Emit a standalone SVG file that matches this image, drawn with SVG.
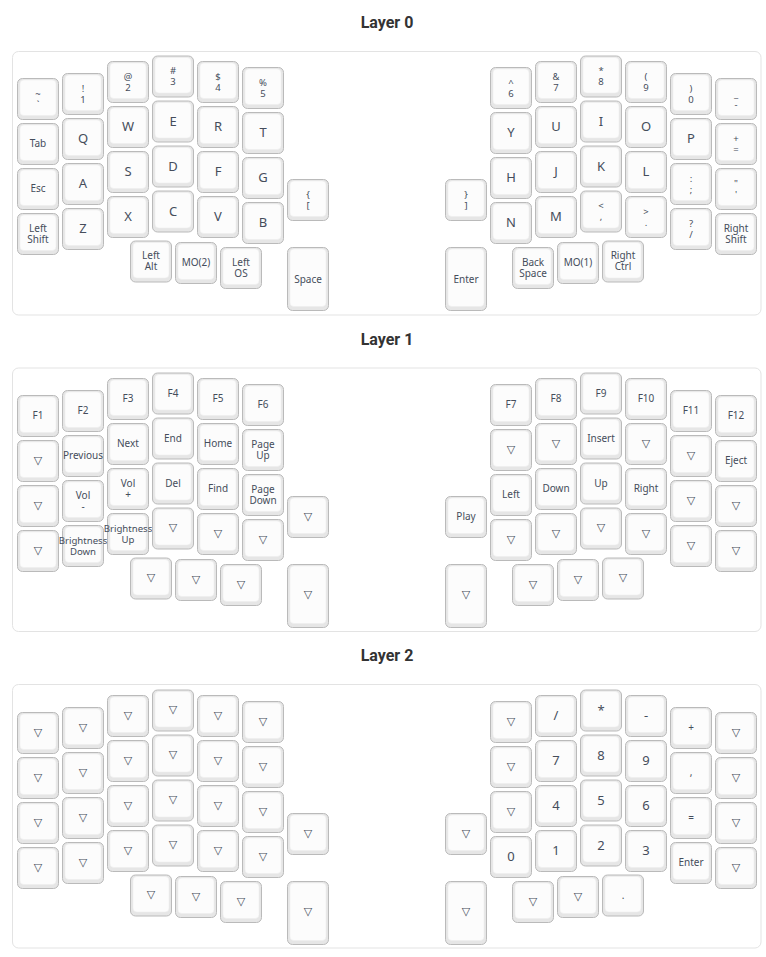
<svg xmlns="http://www.w3.org/2000/svg" xmlns:xlink="http://www.w3.org/1999/xlink" width="766" height="957" viewBox="0 0 766 957">
<style>
.bg{fill:#ffffff}
.layer{fill:#ffffff;stroke:#e3e3e3;stroke-width:1}
.ko{fill:#e6e6e6;stroke:#bababa;stroke-width:1}
.ki{fill:#fcfcfc;stroke:#ececec;stroke-width:0.5}
text{font-family:"Noto Sans","Open Sans",sans-serif;fill:#454d5b;text-anchor:middle;dominant-baseline:central}
.title{font-family:Roboto,"Noto Sans",sans-serif;font-weight:bold;font-size:16px;fill:#333333;dominant-baseline:alphabetic}
.t{font-size:13px}
.s{font-size:10px}
.m{font-size:9.5px}
.b{font-size:9.6px}
.tr{font-family:"DejaVu Sans",sans-serif;font-size:11px}
</style>
<defs>
<g id="k"><rect class="ko" x="0" y="0" width="41" height="41" rx="5"/><rect class="ki" x="2.5" y="1.5" width="36" height="35.5" rx="4"/></g>
<g id="kt"><rect class="ko" x="0" y="0" width="41" height="63" rx="5"/><rect class="ki" x="2.5" y="1.5" width="36" height="57.5" rx="4"/></g>
</defs>
<rect class="bg" x="0" y="0" width="766" height="957"/>
<g id="connectors"/>

<!-- ===== LAYER 0 ===== -->
<g id="layer0">
<text class="title" x="387" y="28">Layer 0</text>
<rect class="layer" x="12.5" y="51.5" width="748.5" height="263.5" rx="6"/>
<g id="l0-c0r0" transform="translate(17.5,78.5)"><use href="#k"/><text class="m"><tspan x="20.5" y="14">~</tspan><tspan x="20.5" y="25">`</tspan></text></g>
<g id="l0-c0r1" transform="translate(17.5,123.5)"><use href="#k"/><text class="s" x="20.5" y="19.5">Tab</text></g>
<g id="l0-c0r2" transform="translate(17.5,168.5)"><use href="#k"/><text class="s" x="20.5" y="19.5">Esc</text></g>
<g id="l0-c0r3" transform="translate(17.5,213.5)"><use href="#k"/><text class="s"><tspan x="20.5" y="14">Left</tspan><tspan x="20.5" y="25">Shift</tspan></text></g>
<g id="l0-c1r0" transform="translate(62.5,73.5)"><use href="#k"/><text class="m"><tspan x="20.5" y="14">!</tspan><tspan x="20.5" y="25">1</tspan></text></g>
<g id="l0-c1r1" transform="translate(62.5,118.5)"><use href="#k"/><text class="t" x="20.5" y="19.5">Q</text></g>
<g id="l0-c1r2" transform="translate(62.5,163.5)"><use href="#k"/><text class="t" x="20.5" y="19.5">A</text></g>
<g id="l0-c1r3" transform="translate(62.5,208.5)"><use href="#k"/><text class="t" x="20.5" y="19.5">Z</text></g>
<g id="l0-c2r0" transform="translate(107.5,61.5)"><use href="#k"/><text class="m"><tspan x="20.5" y="14">@</tspan><tspan x="20.5" y="25">2</tspan></text></g>
<g id="l0-c2r1" transform="translate(107.5,106.5)"><use href="#k"/><text class="t" x="20.5" y="19.5">W</text></g>
<g id="l0-c2r2" transform="translate(107.5,151.5)"><use href="#k"/><text class="t" x="20.5" y="19.5">S</text></g>
<g id="l0-c2r3" transform="translate(107.5,196.5)"><use href="#k"/><text class="t" x="20.5" y="19.5">X</text></g>
<g id="l0-c3r0" transform="translate(152.5,56)"><use href="#k"/><text class="m"><tspan x="20.5" y="14">#</tspan><tspan x="20.5" y="25">3</tspan></text></g>
<g id="l0-c3r1" transform="translate(152.5,101)"><use href="#k"/><text class="t" x="20.5" y="19.5">E</text></g>
<g id="l0-c3r2" transform="translate(152.5,146)"><use href="#k"/><text class="t" x="20.5" y="19.5">D</text></g>
<g id="l0-c3r3" transform="translate(152.5,191)"><use href="#k"/><text class="t" x="20.5" y="19.5">C</text></g>
<g id="l0-c4r0" transform="translate(197.5,61.5)"><use href="#k"/><text class="m"><tspan x="20.5" y="14">$</tspan><tspan x="20.5" y="25">4</tspan></text></g>
<g id="l0-c4r1" transform="translate(197.5,106.5)"><use href="#k"/><text class="t" x="20.5" y="19.5">R</text></g>
<g id="l0-c4r2" transform="translate(197.5,151.5)"><use href="#k"/><text class="t" x="20.5" y="19.5">F</text></g>
<g id="l0-c4r3" transform="translate(197.5,196.5)"><use href="#k"/><text class="t" x="20.5" y="19.5">V</text></g>
<g id="l0-c5r0" transform="translate(242.5,67.5)"><use href="#k"/><text class="m"><tspan x="20.5" y="14">%</tspan><tspan x="20.5" y="25">5</tspan></text></g>
<g id="l0-c5r1" transform="translate(242.5,112.5)"><use href="#k"/><text class="t" x="20.5" y="19.5">T</text></g>
<g id="l0-c5r2" transform="translate(242.5,157.5)"><use href="#k"/><text class="t" x="20.5" y="19.5">G</text></g>
<g id="l0-c5r3" transform="translate(242.5,202.5)"><use href="#k"/><text class="t" x="20.5" y="19.5">B</text></g>
<g id="l0-c6r0" transform="translate(287.5,179.5)"><use href="#k"/><text class="m"><tspan x="20.5" y="14">{</tspan><tspan x="20.5" y="25">[</tspan></text></g>
<g id="l0-c6r1" transform="translate(287.5,247.5)"><use href="#kt"/><text class="s" x="20.5" y="31">Space</text></g>
<g id="l0-t0" transform="translate(130.5,241)"><use href="#k"/><text class="s"><tspan x="20.5" y="14">Left</tspan><tspan x="20.5" y="25">Alt</tspan></text></g>
<g id="l0-t1" transform="translate(175.5,242.5)"><use href="#k"/><text class="s" x="20.5" y="19.5">MO(2)</text></g>
<g id="l0-t2" transform="translate(220.5,247.5)"><use href="#k"/><text class="s"><tspan x="20.5" y="14">Left</tspan><tspan x="20.5" y="25">OS</tspan></text></g>
<g id="l0-r0r0" transform="translate(445.5,179.5)"><use href="#k"/><text class="m"><tspan x="20.5" y="14">}</tspan><tspan x="20.5" y="25">]</tspan></text></g>
<g id="l0-r0r1" transform="translate(445.5,247.5)"><use href="#kt"/><text class="s" x="20.5" y="31">Enter</text></g>
<g id="l0-r1r0" transform="translate(490.5,67.5)"><use href="#k"/><text class="m"><tspan x="20.5" y="14">^</tspan><tspan x="20.5" y="25">6</tspan></text></g>
<g id="l0-r1r1" transform="translate(490.5,112.5)"><use href="#k"/><text class="t" x="20.5" y="19.5">Y</text></g>
<g id="l0-r1r2" transform="translate(490.5,157.5)"><use href="#k"/><text class="t" x="20.5" y="19.5">H</text></g>
<g id="l0-r1r3" transform="translate(490.5,202.5)"><use href="#k"/><text class="t" x="20.5" y="19.5">N</text></g>
<g id="l0-r2r0" transform="translate(535.5,61.5)"><use href="#k"/><text class="m"><tspan x="20.5" y="14">&amp;</tspan><tspan x="20.5" y="25">7</tspan></text></g>
<g id="l0-r2r1" transform="translate(535.5,106.5)"><use href="#k"/><text class="t" x="20.5" y="19.5">U</text></g>
<g id="l0-r2r2" transform="translate(535.5,151.5)"><use href="#k"/><text class="t" x="20.5" y="19.5">J</text></g>
<g id="l0-r2r3" transform="translate(535.5,196.5)"><use href="#k"/><text class="t" x="20.5" y="19.5">M</text></g>
<g id="l0-r3r0" transform="translate(580.5,56)"><use href="#k"/><text class="m"><tspan x="20.5" y="14">*</tspan><tspan x="20.5" y="25">8</tspan></text></g>
<g id="l0-r3r1" transform="translate(580.5,101)"><use href="#k"/><text class="t" x="20.5" y="19.5">I</text></g>
<g id="l0-r3r2" transform="translate(580.5,146)"><use href="#k"/><text class="t" x="20.5" y="19.5">K</text></g>
<g id="l0-r3r3" transform="translate(580.5,191)"><use href="#k"/><text class="m"><tspan x="20.5" y="14">&lt;</tspan><tspan x="20.5" y="25">,</tspan></text></g>
<g id="l0-r4r0" transform="translate(625.5,61.5)"><use href="#k"/><text class="m"><tspan x="20.5" y="14">(</tspan><tspan x="20.5" y="25">9</tspan></text></g>
<g id="l0-r4r1" transform="translate(625.5,106.5)"><use href="#k"/><text class="t" x="20.5" y="19.5">O</text></g>
<g id="l0-r4r2" transform="translate(625.5,151.5)"><use href="#k"/><text class="t" x="20.5" y="19.5">L</text></g>
<g id="l0-r4r3" transform="translate(625.5,196.5)"><use href="#k"/><text class="m"><tspan x="20.5" y="14">&gt;</tspan><tspan x="20.5" y="25">.</tspan></text></g>
<g id="l0-r5r0" transform="translate(670.5,73.5)"><use href="#k"/><text class="m"><tspan x="20.5" y="14">)</tspan><tspan x="20.5" y="25">0</tspan></text></g>
<g id="l0-r5r1" transform="translate(670.5,118.5)"><use href="#k"/><text class="t" x="20.5" y="19.5">P</text></g>
<g id="l0-r5r2" transform="translate(670.5,163.5)"><use href="#k"/><text class="m"><tspan x="20.5" y="14">:</tspan><tspan x="20.5" y="25">;</tspan></text></g>
<g id="l0-r5r3" transform="translate(670.5,208.5)"><use href="#k"/><text class="m"><tspan x="20.5" y="14">?</tspan><tspan x="20.5" y="25">/</tspan></text></g>
<g id="l0-r6r0" transform="translate(715.5,78.5)"><use href="#k"/><text class="m"><tspan x="20.5" y="14">_</tspan><tspan x="20.5" y="25">-</tspan></text></g>
<g id="l0-r6r1" transform="translate(715.5,123.5)"><use href="#k"/><text class="m"><tspan x="20.5" y="14">+</tspan><tspan x="20.5" y="25">=</tspan></text></g>
<g id="l0-r6r2" transform="translate(715.5,168.5)"><use href="#k"/><text class="m"><tspan x="20.5" y="14">"</tspan><tspan x="20.5" y="25">'</tspan></text></g>
<g id="l0-r6r3" transform="translate(715.5,213.5)"><use href="#k"/><text class="s"><tspan x="20.5" y="14">Right</tspan><tspan x="20.5" y="25">Shift</tspan></text></g>
<g id="l0-rt0" transform="translate(512.5,247.5)"><use href="#k"/><text class="s"><tspan x="20.5" y="14">Back</tspan><tspan x="20.5" y="25">Space</tspan></text></g>
<g id="l0-rt1" transform="translate(557.5,242.5)"><use href="#k"/><text class="s" x="20.5" y="19.5">MO(1)</text></g>
<g id="l0-rt2" transform="translate(602.5,241)"><use href="#k"/><text class="s"><tspan x="20.5" y="14">Right</tspan><tspan x="20.5" y="25">Ctrl</tspan></text></g>
</g>

<!-- ===== LAYER 1 ===== -->
<g id="layer1" transform="translate(0,317)">
<text class="title" x="387" y="27.5">Layer 1</text>
<rect class="layer" x="12.5" y="51" width="748.5" height="263.5" rx="6"/>
<g id="l1-c0r0" transform="translate(17.5,78.5)"><use href="#k"/><text class="s" x="20.5" y="19.5">F1</text></g>
<g id="l1-c0r1" transform="translate(17.5,123.5)"><use href="#k"/><text class="tr" x="20.5" y="19.5">▽</text></g>
<g id="l1-c0r2" transform="translate(17.5,168.5)"><use href="#k"/><text class="tr" x="20.5" y="19.5">▽</text></g>
<g id="l1-c0r3" transform="translate(17.5,213.5)"><use href="#k"/><text class="tr" x="20.5" y="19.5">▽</text></g>
<g id="l1-c1r0" transform="translate(62.5,73.5)"><use href="#k"/><text class="s" x="20.5" y="19.5">F2</text></g>
<g id="l1-c1r1" transform="translate(62.5,118.5)"><use href="#k"/><text class="s" x="20.5" y="19.5">Previous</text></g>
<g id="l1-c1r2" transform="translate(62.5,163.5)"><use href="#k"/><text class="s"><tspan x="20.5" y="14">Vol</tspan><tspan x="20.5" y="25">-</tspan></text></g>
<g id="l1-c1r3" transform="translate(62.5,208.5)"><use href="#k"/><text class="b"><tspan x="20.5" y="14">Brightness</tspan><tspan x="20.5" y="25">Down</tspan></text></g>
<g id="l1-c2r0" transform="translate(107.5,61.5)"><use href="#k"/><text class="s" x="20.5" y="19.5">F3</text></g>
<g id="l1-c2r1" transform="translate(107.5,106.5)"><use href="#k"/><text class="s" x="20.5" y="19.5">Next</text></g>
<g id="l1-c2r2" transform="translate(107.5,151.5)"><use href="#k"/><text class="s"><tspan x="20.5" y="14">Vol</tspan><tspan x="20.5" y="25">+</tspan></text></g>
<g id="l1-c2r3" transform="translate(107.5,196.5)"><use href="#k"/><text class="b"><tspan x="20.5" y="14">Brightness</tspan><tspan x="20.5" y="25">Up</tspan></text></g>
<g id="l1-c3r0" transform="translate(152.5,56)"><use href="#k"/><text class="s" x="20.5" y="19.5">F4</text></g>
<g id="l1-c3r1" transform="translate(152.5,101)"><use href="#k"/><text class="s" x="20.5" y="19.5">End</text></g>
<g id="l1-c3r2" transform="translate(152.5,146)"><use href="#k"/><text class="s" x="20.5" y="19.5">Del</text></g>
<g id="l1-c3r3" transform="translate(152.5,191)"><use href="#k"/><text class="tr" x="20.5" y="19.5">▽</text></g>
<g id="l1-c4r0" transform="translate(197.5,61.5)"><use href="#k"/><text class="s" x="20.5" y="19.5">F5</text></g>
<g id="l1-c4r1" transform="translate(197.5,106.5)"><use href="#k"/><text class="s" x="20.5" y="19.5">Home</text></g>
<g id="l1-c4r2" transform="translate(197.5,151.5)"><use href="#k"/><text class="s" x="20.5" y="19.5">Find</text></g>
<g id="l1-c4r3" transform="translate(197.5,196.5)"><use href="#k"/><text class="tr" x="20.5" y="19.5">▽</text></g>
<g id="l1-c5r0" transform="translate(242.5,67.5)"><use href="#k"/><text class="s" x="20.5" y="19.5">F6</text></g>
<g id="l1-c5r1" transform="translate(242.5,112.5)"><use href="#k"/><text class="s"><tspan x="20.5" y="14">Page</tspan><tspan x="20.5" y="25">Up</tspan></text></g>
<g id="l1-c5r2" transform="translate(242.5,157.5)"><use href="#k"/><text class="s"><tspan x="20.5" y="14">Page</tspan><tspan x="20.5" y="25">Down</tspan></text></g>
<g id="l1-c5r3" transform="translate(242.5,202.5)"><use href="#k"/><text class="tr" x="20.5" y="19.5">▽</text></g>
<g id="l1-c6r0" transform="translate(287.5,179.5)"><use href="#k"/><text class="tr" x="20.5" y="19.5">▽</text></g>
<g id="l1-c6r1" transform="translate(287.5,247.5)"><use href="#kt"/><text class="tr" x="20.5" y="30">▽</text></g>
<g id="l1-t0" transform="translate(130.5,241)"><use href="#k"/><text class="tr" x="20.5" y="19.5">▽</text></g>
<g id="l1-t1" transform="translate(175.5,242.5)"><use href="#k"/><text class="tr" x="20.5" y="19.5">▽</text></g>
<g id="l1-t2" transform="translate(220.5,247.5)"><use href="#k"/><text class="tr" x="20.5" y="19.5">▽</text></g>
<g id="l1-r0r0" transform="translate(445.5,179.5)"><use href="#k"/><text class="s" x="20.5" y="19.5">Play</text></g>
<g id="l1-r0r1" transform="translate(445.5,247.5)"><use href="#kt"/><text class="tr" x="20.5" y="30">▽</text></g>
<g id="l1-r1r0" transform="translate(490.5,67.5)"><use href="#k"/><text class="s" x="20.5" y="19.5">F7</text></g>
<g id="l1-r1r1" transform="translate(490.5,112.5)"><use href="#k"/><text class="tr" x="20.5" y="19.5">▽</text></g>
<g id="l1-r1r2" transform="translate(490.5,157.5)"><use href="#k"/><text class="s" x="20.5" y="19.5">Left</text></g>
<g id="l1-r1r3" transform="translate(490.5,202.5)"><use href="#k"/><text class="tr" x="20.5" y="19.5">▽</text></g>
<g id="l1-r2r0" transform="translate(535.5,61.5)"><use href="#k"/><text class="s" x="20.5" y="19.5">F8</text></g>
<g id="l1-r2r1" transform="translate(535.5,106.5)"><use href="#k"/><text class="tr" x="20.5" y="19.5">▽</text></g>
<g id="l1-r2r2" transform="translate(535.5,151.5)"><use href="#k"/><text class="s" x="20.5" y="19.5">Down</text></g>
<g id="l1-r2r3" transform="translate(535.5,196.5)"><use href="#k"/><text class="tr" x="20.5" y="19.5">▽</text></g>
<g id="l1-r3r0" transform="translate(580.5,56)"><use href="#k"/><text class="s" x="20.5" y="19.5">F9</text></g>
<g id="l1-r3r1" transform="translate(580.5,101)"><use href="#k"/><text class="s" x="20.5" y="19.5">Insert</text></g>
<g id="l1-r3r2" transform="translate(580.5,146)"><use href="#k"/><text class="s" x="20.5" y="19.5">Up</text></g>
<g id="l1-r3r3" transform="translate(580.5,191)"><use href="#k"/><text class="tr" x="20.5" y="19.5">▽</text></g>
<g id="l1-r4r0" transform="translate(625.5,61.5)"><use href="#k"/><text class="s" x="20.5" y="19.5">F10</text></g>
<g id="l1-r4r1" transform="translate(625.5,106.5)"><use href="#k"/><text class="tr" x="20.5" y="19.5">▽</text></g>
<g id="l1-r4r2" transform="translate(625.5,151.5)"><use href="#k"/><text class="s" x="20.5" y="19.5">Right</text></g>
<g id="l1-r4r3" transform="translate(625.5,196.5)"><use href="#k"/><text class="tr" x="20.5" y="19.5">▽</text></g>
<g id="l1-r5r0" transform="translate(670.5,73.5)"><use href="#k"/><text class="s" x="20.5" y="19.5">F11</text></g>
<g id="l1-r5r1" transform="translate(670.5,118.5)"><use href="#k"/><text class="tr" x="20.5" y="19.5">▽</text></g>
<g id="l1-r5r2" transform="translate(670.5,163.5)"><use href="#k"/><text class="tr" x="20.5" y="19.5">▽</text></g>
<g id="l1-r5r3" transform="translate(670.5,208.5)"><use href="#k"/><text class="tr" x="20.5" y="19.5">▽</text></g>
<g id="l1-r6r0" transform="translate(715.5,78.5)"><use href="#k"/><text class="s" x="20.5" y="19.5">F12</text></g>
<g id="l1-r6r1" transform="translate(715.5,123.5)"><use href="#k"/><text class="s" x="20.5" y="19.5">Eject</text></g>
<g id="l1-r6r2" transform="translate(715.5,168.5)"><use href="#k"/><text class="tr" x="20.5" y="19.5">▽</text></g>
<g id="l1-r6r3" transform="translate(715.5,213.5)"><use href="#k"/><text class="tr" x="20.5" y="19.5">▽</text></g>
<g id="l1-rt0" transform="translate(512.5,247.5)"><use href="#k"/><text class="tr" x="20.5" y="19.5">▽</text></g>
<g id="l1-rt1" transform="translate(557.5,242.5)"><use href="#k"/><text class="tr" x="20.5" y="19.5">▽</text></g>
<g id="l1-rt2" transform="translate(602.5,241)"><use href="#k"/><text class="tr" x="20.5" y="19.5">▽</text></g>
</g>

<!-- ===== LAYER 2 ===== -->
<g id="layer2" transform="translate(0,634)">
<text class="title" x="387" y="27">Layer 2</text>
<rect class="layer" x="12.5" y="50.5" width="748.5" height="263.5" rx="6"/>
<g id="l2-c0r0" transform="translate(17.5,78.5)"><use href="#k"/><text class="tr" x="20.5" y="19.5">▽</text></g>
<g id="l2-c0r1" transform="translate(17.5,123.5)"><use href="#k"/><text class="tr" x="20.5" y="19.5">▽</text></g>
<g id="l2-c0r2" transform="translate(17.5,168.5)"><use href="#k"/><text class="tr" x="20.5" y="19.5">▽</text></g>
<g id="l2-c0r3" transform="translate(17.5,213.5)"><use href="#k"/><text class="tr" x="20.5" y="19.5">▽</text></g>
<g id="l2-c1r0" transform="translate(62.5,73.5)"><use href="#k"/><text class="tr" x="20.5" y="19.5">▽</text></g>
<g id="l2-c1r1" transform="translate(62.5,118.5)"><use href="#k"/><text class="tr" x="20.5" y="19.5">▽</text></g>
<g id="l2-c1r2" transform="translate(62.5,163.5)"><use href="#k"/><text class="tr" x="20.5" y="19.5">▽</text></g>
<g id="l2-c1r3" transform="translate(62.5,208.5)"><use href="#k"/><text class="tr" x="20.5" y="19.5">▽</text></g>
<g id="l2-c2r0" transform="translate(107.5,61.5)"><use href="#k"/><text class="tr" x="20.5" y="19.5">▽</text></g>
<g id="l2-c2r1" transform="translate(107.5,106.5)"><use href="#k"/><text class="tr" x="20.5" y="19.5">▽</text></g>
<g id="l2-c2r2" transform="translate(107.5,151.5)"><use href="#k"/><text class="tr" x="20.5" y="19.5">▽</text></g>
<g id="l2-c2r3" transform="translate(107.5,196.5)"><use href="#k"/><text class="tr" x="20.5" y="19.5">▽</text></g>
<g id="l2-c3r0" transform="translate(152.5,56)"><use href="#k"/><text class="tr" x="20.5" y="19.5">▽</text></g>
<g id="l2-c3r1" transform="translate(152.5,101)"><use href="#k"/><text class="tr" x="20.5" y="19.5">▽</text></g>
<g id="l2-c3r2" transform="translate(152.5,146)"><use href="#k"/><text class="tr" x="20.5" y="19.5">▽</text></g>
<g id="l2-c3r3" transform="translate(152.5,191)"><use href="#k"/><text class="tr" x="20.5" y="19.5">▽</text></g>
<g id="l2-c4r0" transform="translate(197.5,61.5)"><use href="#k"/><text class="tr" x="20.5" y="19.5">▽</text></g>
<g id="l2-c4r1" transform="translate(197.5,106.5)"><use href="#k"/><text class="tr" x="20.5" y="19.5">▽</text></g>
<g id="l2-c4r2" transform="translate(197.5,151.5)"><use href="#k"/><text class="tr" x="20.5" y="19.5">▽</text></g>
<g id="l2-c4r3" transform="translate(197.5,196.5)"><use href="#k"/><text class="tr" x="20.5" y="19.5">▽</text></g>
<g id="l2-c5r0" transform="translate(242.5,67.5)"><use href="#k"/><text class="tr" x="20.5" y="19.5">▽</text></g>
<g id="l2-c5r1" transform="translate(242.5,112.5)"><use href="#k"/><text class="tr" x="20.5" y="19.5">▽</text></g>
<g id="l2-c5r2" transform="translate(242.5,157.5)"><use href="#k"/><text class="tr" x="20.5" y="19.5">▽</text></g>
<g id="l2-c5r3" transform="translate(242.5,202.5)"><use href="#k"/><text class="tr" x="20.5" y="19.5">▽</text></g>
<g id="l2-c6r0" transform="translate(287.5,179.5)"><use href="#k"/><text class="tr" x="20.5" y="19.5">▽</text></g>
<g id="l2-c6r1" transform="translate(287.5,247.5)"><use href="#kt"/><text class="tr" x="20.5" y="30">▽</text></g>
<g id="l2-t0" transform="translate(130.5,241)"><use href="#k"/><text class="tr" x="20.5" y="19.5">▽</text></g>
<g id="l2-t1" transform="translate(175.5,242.5)"><use href="#k"/><text class="tr" x="20.5" y="19.5">▽</text></g>
<g id="l2-t2" transform="translate(220.5,247.5)"><use href="#k"/><text class="tr" x="20.5" y="19.5">▽</text></g>
<g id="l2-r0r0" transform="translate(445.5,179.5)"><use href="#k"/><text class="tr" x="20.5" y="19.5">▽</text></g>
<g id="l2-r0r1" transform="translate(445.5,247.5)"><use href="#kt"/><text class="tr" x="20.5" y="30">▽</text></g>
<g id="l2-r1r0" transform="translate(490.5,67.5)"><use href="#k"/><text class="tr" x="20.5" y="19.5">▽</text></g>
<g id="l2-r1r1" transform="translate(490.5,112.5)"><use href="#k"/><text class="tr" x="20.5" y="19.5">▽</text></g>
<g id="l2-r1r2" transform="translate(490.5,157.5)"><use href="#k"/><text class="tr" x="20.5" y="19.5">▽</text></g>
<g id="l2-r1r3" transform="translate(490.5,202.5)"><use href="#k"/><text class="t" x="20.5" y="19.5">0</text></g>
<g id="l2-r2r0" transform="translate(535.5,61.5)"><use href="#k"/><text class="t" x="20.5" y="19.5">/</text></g>
<g id="l2-r2r1" transform="translate(535.5,106.5)"><use href="#k"/><text class="t" x="20.5" y="19.5">7</text></g>
<g id="l2-r2r2" transform="translate(535.5,151.5)"><use href="#k"/><text class="t" x="20.5" y="19.5">4</text></g>
<g id="l2-r2r3" transform="translate(535.5,196.5)"><use href="#k"/><text class="t" x="20.5" y="19.5">1</text></g>
<g id="l2-r3r0" transform="translate(580.5,56)"><use href="#k"/><text class="t" x="20.5" y="19.5">*</text></g>
<g id="l2-r3r1" transform="translate(580.5,101)"><use href="#k"/><text class="t" x="20.5" y="19.5">8</text></g>
<g id="l2-r3r2" transform="translate(580.5,146)"><use href="#k"/><text class="t" x="20.5" y="19.5">5</text></g>
<g id="l2-r3r3" transform="translate(580.5,191)"><use href="#k"/><text class="t" x="20.5" y="19.5">2</text></g>
<g id="l2-r4r0" transform="translate(625.5,61.5)"><use href="#k"/><text class="t" x="20.5" y="19.5">-</text></g>
<g id="l2-r4r1" transform="translate(625.5,106.5)"><use href="#k"/><text class="t" x="20.5" y="19.5">9</text></g>
<g id="l2-r4r2" transform="translate(625.5,151.5)"><use href="#k"/><text class="t" x="20.5" y="19.5">6</text></g>
<g id="l2-r4r3" transform="translate(625.5,196.5)"><use href="#k"/><text class="t" x="20.5" y="19.5">3</text></g>
<g id="l2-r5r0" transform="translate(670.5,73.5)"><use href="#k"/><text class="s" x="20.5" y="19.5">+</text></g>
<g id="l2-r5r1" transform="translate(670.5,118.5)"><use href="#k"/><text class="s" x="20.5" y="19.5">,</text></g>
<g id="l2-r5r2" transform="translate(670.5,163.5)"><use href="#k"/><text class="s" x="20.5" y="19.5">=</text></g>
<g id="l2-r5r3" transform="translate(670.5,208.5)"><use href="#k"/><text class="s" x="20.5" y="19.5">Enter</text></g>
<g id="l2-r6r0" transform="translate(715.5,78.5)"><use href="#k"/><text class="tr" x="20.5" y="19.5">▽</text></g>
<g id="l2-r6r1" transform="translate(715.5,123.5)"><use href="#k"/><text class="tr" x="20.5" y="19.5">▽</text></g>
<g id="l2-r6r2" transform="translate(715.5,168.5)"><use href="#k"/><text class="tr" x="20.5" y="19.5">▽</text></g>
<g id="l2-r6r3" transform="translate(715.5,213.5)"><use href="#k"/><text class="tr" x="20.5" y="19.5">▽</text></g>
<g id="l2-rt0" transform="translate(512.5,247.5)"><use href="#k"/><text class="tr" x="20.5" y="19.5">▽</text></g>
<g id="l2-rt1" transform="translate(557.5,242.5)"><use href="#k"/><text class="tr" x="20.5" y="19.5">▽</text></g>
<g id="l2-rt2" transform="translate(602.5,241)"><use href="#k"/><text class="s" x="20.5" y="19.5">.</text></g>
</g>
</svg>
